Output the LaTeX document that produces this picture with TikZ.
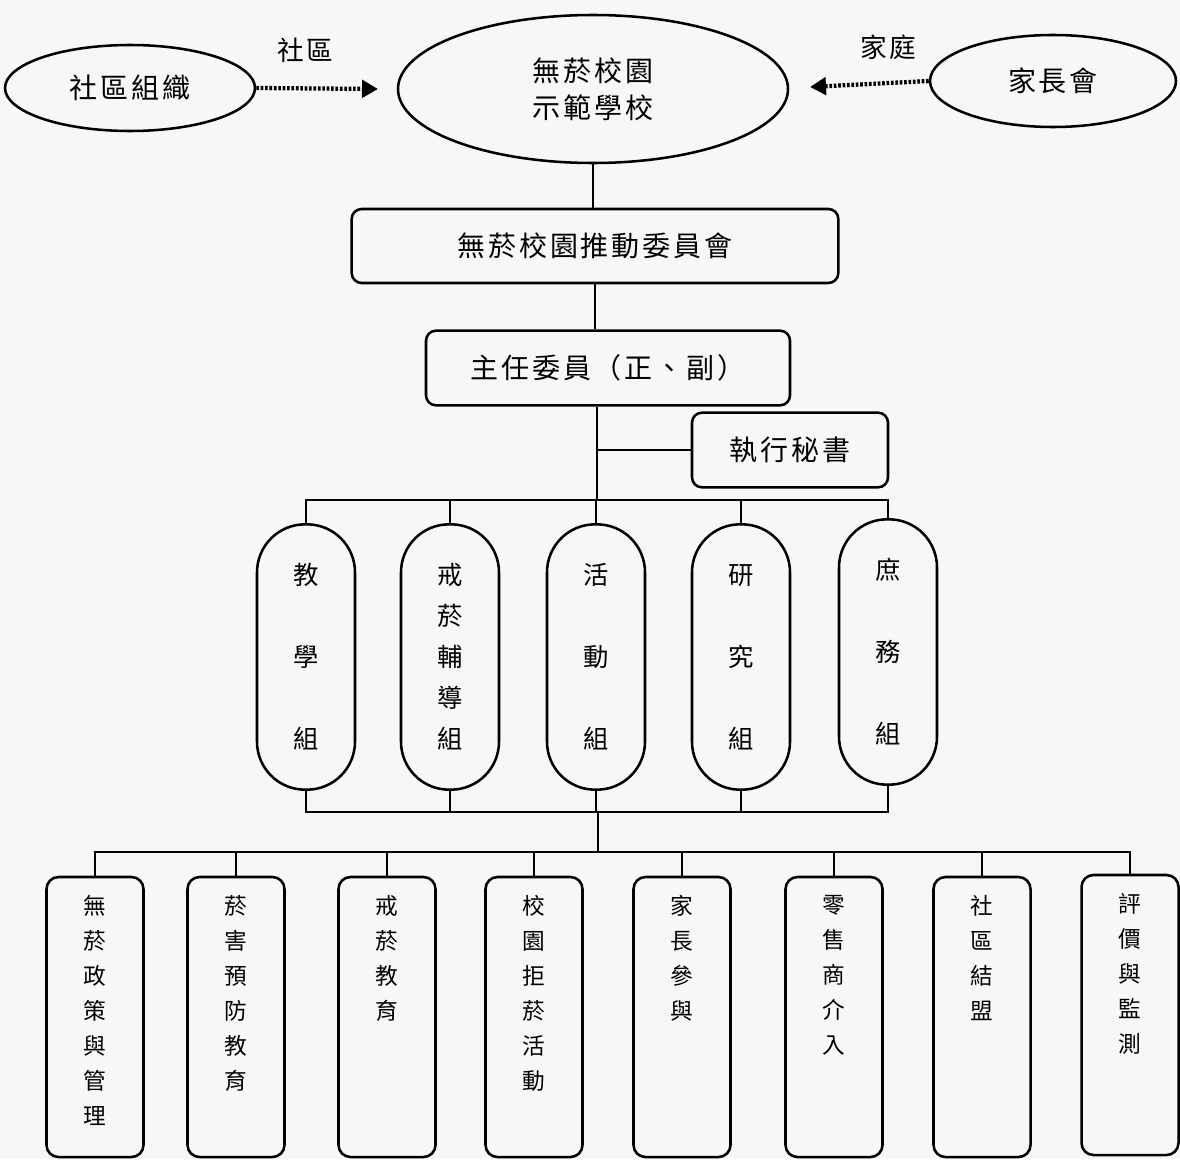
\documentclass[tikz,border=0pt]{standalone}
\usepackage{fontspec}
\setmainfont{Noto Sans CJK TC}[LetterSpace=10]
\usetikzlibrary{shapes.geometric,arrows.meta,positioning}
\begin{document}
\begin{tikzpicture}[x=0.75pt,y=-0.75pt,line width=1.9pt,
  oval/.style={draw, ellipse, inner sep=0pt, align=center, font=\fontsize{21}{27.75}\selectfont},
  rbox/.style={draw, rectangle, rounded corners=7.5pt, inner sep=0pt, font=\fontsize{21}{27}\selectfont},
  lbl/.style={inner sep=0pt, font=\fontsize{20}{24}\selectfont},
  capsule/.style={draw, rectangle, rounded corners=36pt, minimum width=73.5pt, minimum height=199pt, inner sep=0pt, align=center},
  fivech/.style={font=\fontsize{19}{30.75}\selectfont},
  threech/.style={font=\fontsize{19}{61.5}\selectfont},
  tbox/.style={draw, rectangle, rounded corners=9pt, minimum width=72.75pt, minimum height=210pt, inner sep=0pt},
  vtext/.style={align=center, inner sep=0pt, anchor=north, font=\fontsize{17}{26.25}\selectfont},
  dotarrow/.style={line width=3.2pt, dash pattern=on 2pt off 1.3pt, -{Triangle[length=12pt,width=13pt]}}
]
\fill[white!97!black] (0,0) rectangle (1180,1159);
\useasboundingbox (0,0) rectangle (1180,1159);

% top row
\node[oval, minimum width=187.5pt, minimum height=64.5pt] (le) at (130,88) {社區組織};
\node[oval, minimum width=292.5pt, minimum height=111pt] (school) at (593,89) {無菸校園\\示範學校};
\node[oval, minimum width=184.5pt, minimum height=69pt] (re) at (1053,81) {家長會};
\node[lbl] (lcomm) at (305,50) {社區};
\node[lbl] (lfam) at (888,47) {家庭};
\coordinate (la) at (378,89);
\coordinate (ra) at (810,87);
\draw[dotarrow] (le.east) -- (la);
\draw[dotarrow] (re.west) -- (ra);

% committee
\node[rbox, minimum width=365pt, minimum height=55.5pt] (comm) at (595,246) {無菸校園推動委員會};
\node[rbox, minimum width=273pt, minimum height=56pt] (chair) at (608,368) {主任委員（正、副）};
\node[rbox, minimum width=147pt, minimum height=56pt] (sec) at (790,450) {執行秘書};
\draw (school.south) -- (school.south |- comm.north);
\draw (comm.south) -- (comm.south |- chair.north);
\coordinate (bus) at (597,500);
\draw (bus |- chair.south) -- (bus);
\draw (bus |- sec.west) -- (sec.west);

% groups
\node[capsule, threech] (g1) at (306,657) {教\\學\\組};
\node[capsule, fivech] (g2) at (450,657) {戒\\菸\\輔\\導\\組};
\node[capsule, threech] (g3) at (596,657) {活\\動\\組};
\node[capsule, threech] (g4) at (741,657) {研\\究\\組};
\node[capsule, threech] (g5) at (888,652) {庶\\務\\組};
\draw (g1.north) |- (bus) -| (g5.north);
\draw (g2.north) -- (g2.north |- bus);
\draw (g3.north) -- (g3.north |- bus);
\draw (g4.north) -- (g4.north |- bus);
\coordinate (bus2) at (598,812);
\draw (g1.south) |- (bus2) -| (g5.south);
\draw (g2.south) -- (g2.south |- bus2);
\draw (g3.south) -- (g3.south |- bus2);
\draw (g4.south) -- (g4.south |- bus2);
\coordinate (bus3) at (598,852);
\draw (bus2) -- (bus3);

% bottom row
\node[tbox] (b1) at (95,1017) {};
\node[tbox] (b2) at (236,1017) {};
\node[tbox] (b3) at (387,1017) {};
\node[tbox] (b4) at (534,1017) {};
\node[tbox] (b5) at (682,1017) {};
\node[tbox] (b6) at (834,1017) {};
\node[tbox] (b7) at (982,1017) {};
\node[tbox] (b8) at (1130,1015) {};
\draw (b1.north) |- (bus3) -| (b8.north);
\foreach \b in {b2,b3,b4,b5,b6,b7}{\draw (\b.north) -- (\b.north |- bus3);}

\node[vtext, below=14pt of b1.north] (t1) {無\\菸\\政\\策\\與\\管\\理};
\node[vtext, below=14pt of b2.north] (t2) {菸\\害\\預\\防\\教\\育};
\node[vtext, below=14pt of b3.north] (t3) {戒\\菸\\教\\育};
\node[vtext, below=14pt of b4.north] (t4) {校\\園\\拒\\菸\\活\\動};
\node[vtext, below=14pt of b5.north] (t5) {家\\長\\參\\與};
\node[vtext, below=14pt of b6.north] (t6) {零\\售\\商\\介\\入};
\node[vtext, below=14pt of b7.north] (t7) {社\\區\\結\\盟};
\node[vtext, below=14pt of b8.north] (t8) {評\\價\\與\\監\\測};
\end{tikzpicture}
\end{document}
